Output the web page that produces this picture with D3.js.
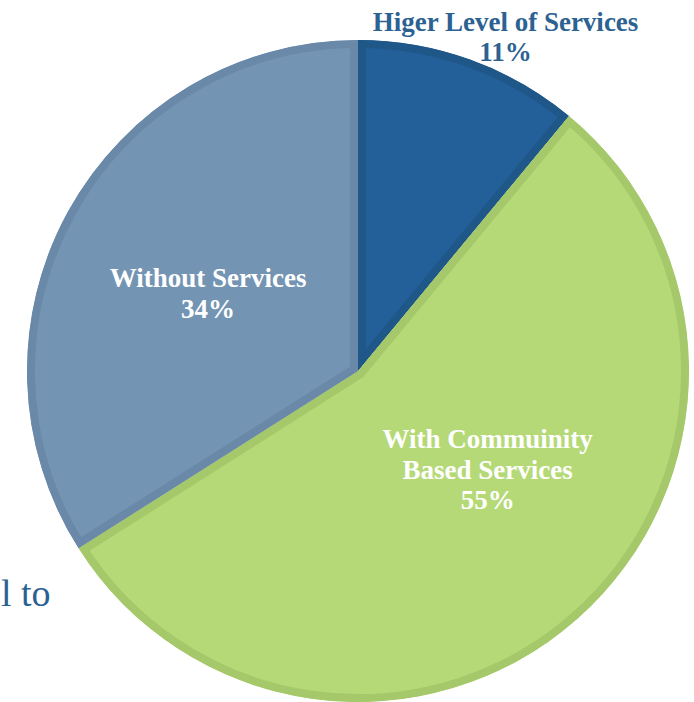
<!DOCTYPE html>
<html>
<head>
<meta charset="utf-8">
<script src="https://cdn.jsdelivr.net/npm/d3@7"></script>
<style>
  html, body { margin: 0; padding: 0; background: #ffffff; }
  svg { display: block; }
</style>
</head>
<body>
<script>
// Share of people by level of services received
const categories = ["Higer Level of Services", "With Commuinity Based Services", "Without Services"];
const values = [11, 55, 34];
const labelLines = [
  ["Higer Level of Services", "11%"],
  ["With Commuinity", "Based Services", "55%"],
  ["Without Services", "34%"]
];
const fills = ["#23609a", "#b5d977", "#7494b3"];
const edges = ["#1f5789", "#a5c86a", "#6a88a8"];
const labelColors = ["#2b6292", "#ffffff", "#ffffff"];

const W = 694, H = 702;
const cx = 358, cy = 371, R = 331;
const edgeWidth = 8;

const svg = d3.select("body").append("svg")
  .attr("width", W).attr("height", H);

// Fragment of the surrounding page text
svg.append("text")
  .attr("x", 1).attr("y", 606)
  .attr("text-anchor", "start")
  .attr("font-family", "'Liberation Serif', 'Times New Roman', serif")
  .attr("font-size", 38)
  .attr("fill", "#2b6292")
  .text("l to");

const pie = d3.pie().sort(null).value(d => d)(values);
const arc = d3.arc().innerRadius(0).outerRadius(R);

const g = svg.append("g").attr("transform", `translate(${cx},${cy})`);
const defs = svg.append("defs");

pie.forEach((p, i) => {
  defs.append("clipPath").attr("id", "slice" + i)
    .append("path").attr("d", arc(p));
});

// Each slice gets an inner border in a darker shade of its fill
g.selectAll("path.slice")
  .data(pie)
  .join("path")
  .attr("class", "slice")
  .attr("d", arc)
  .attr("fill", (d, i) => fills[i])
  .attr("stroke", (d, i) => edges[i])
  .attr("stroke-width", edgeWidth * 2)
  .attr("stroke-linejoin", "miter")
  .attr("clip-path", (d, i) => `url(#slice${i})`);

// Label placement: inside labels near half radius, the small slice labelled outside
const labelRadius = [R * 1.075, R * 0.51, R * 0.51];
const nudge = [[27, 1], [18, -28], [-2, 4]];
const fontSize = 27, lineGap = 30.5;

pie.forEach((p, i) => {
  const a = (p.startAngle + p.endAngle) / 2;
  const x = Math.sin(a) * labelRadius[i] + nudge[i][0];
  const y = -Math.cos(a) * labelRadius[i] + nudge[i][1];
  const lines = labelLines[i];
  const first = y - (lines.length - 1) * lineGap / 2 + fontSize * 0.33;
  const t = g.append("text")
    .attr("text-anchor", "middle")
    .attr("font-family", "'Liberation Serif', 'Times New Roman', serif")
    .attr("font-weight", "bold")
    .attr("font-size", fontSize)
    .attr("fill", labelColors[i]);
  lines.forEach((ln, k) => {
    t.append("tspan").attr("x", x).attr("y", first + k * lineGap).text(ln);
  });
});
</script>
</body>
</html>
